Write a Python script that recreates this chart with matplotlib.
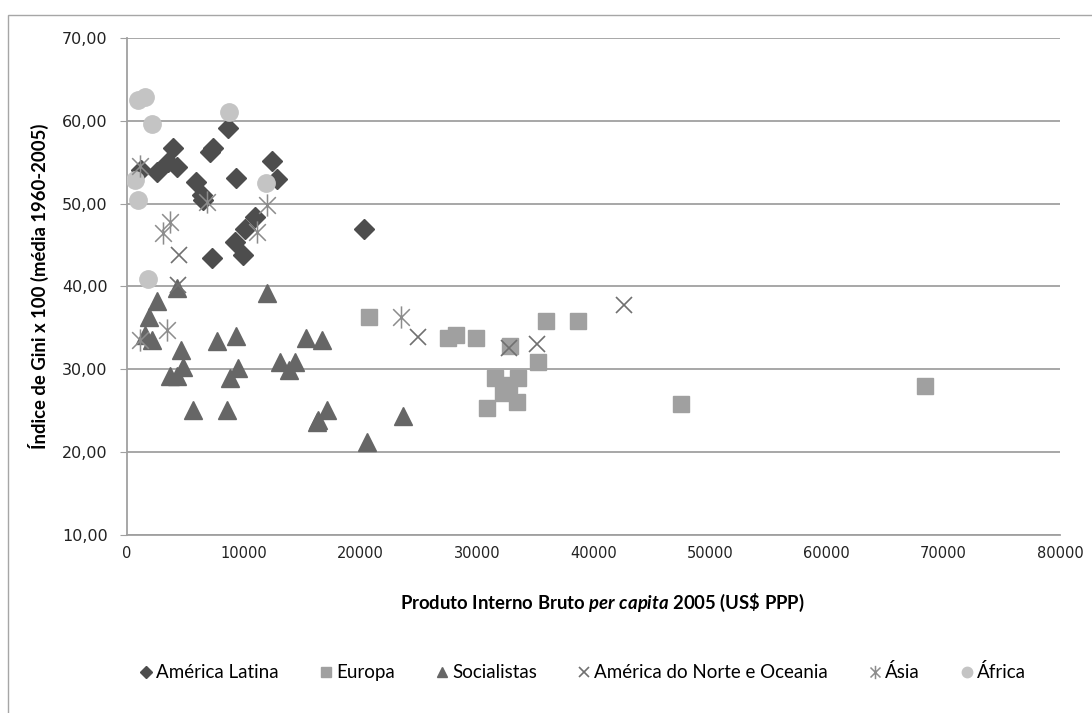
import matplotlib
matplotlib.use('Agg')

import matplotlib.pyplot as plt
import matplotlib.patches as mpatches
from matplotlib.path import Path
from matplotlib.ticker import FuncFormatter
from matplotlib import rcParams

rcParams['mathtext.fontset'] = 'custom'
rcParams['mathtext.it'] = 'Lato:bold:italic'
rcParams['mathtext.rm'] = 'Lato:bold'

# values: GDP per capita 2005 (US$ PPP) vs Gini x 100
latina_x = [1200, 2570, 3940, 3500, 4290, 5900, 6430, 6500, 7120, 7370, 8660, 9350,
            12430, 12860, 10970, 10120, 9260, 7290, 9950, 20320]
latina_y = [54.1, 53.8, 56.7, 55.0, 54.4, 52.6, 51.0, 50.4, 56.2, 56.7, 59.1, 53.1,
            55.2, 53.0, 48.4, 46.9, 45.4, 43.4, 43.8, 47.0]

europa_x = [20750, 27520, 28210, 29920, 32840, 35930, 38670, 35240, 31550, 33520,
            32750, 32240, 33440, 30870, 47500, 68420]
europa_y = [36.3, 33.8, 34.1, 33.8, 32.8, 35.8, 35.8, 30.9, 29.0, 29.0,
            28.1, 27.1, 26.1, 25.3, 25.8, 28.0]

social_x = [2570, 1890, 4290, 1540, 2140, 4630, 4800, 3690, 4290, 7720, 9350, 9520,
            8830, 5660, 8570, 12000, 13120, 13890, 14400, 15350, 16720, 16290,
            17150, 16380, 23660, 20580]
social_y = [38.2, 36.3, 39.8, 34.1, 33.5, 32.3, 30.3, 29.2, 29.2, 33.4, 34.0, 30.2,
            29.0, 25.1, 25.1, 39.2, 30.9, 29.9, 30.9, 33.8, 33.5, 23.6,
            25.1, 23.9, 24.4, 21.2]

norte_x = [4460, 4370, 24950, 32750, 35150, 42610]
norte_y = [43.8, 40.2, 33.9, 32.6, 33.0, 37.8]

asia_x = [1110, 3690, 3090, 12000, 11150, 6860, 3430, 1110, 23490]
asia_y = [54.6, 47.8, 46.4, 49.8, 46.6, 50.2, 34.7, 33.5, 36.3]

africa_x = [950, 1540, 2140, 690, 950, 8750, 11920, 1800]
africa_y = [62.5, 62.9, 59.6, 52.9, 50.4, 61.1, 52.5, 40.9]

# excel style asterisk: vertical bar plus an x
ast = Path([(0, -1), (0, 1), (-0.75, -0.75), (0.75, 0.75), (-0.75, 0.75), (0.75, -0.75)],
           [Path.MOVETO, Path.LINETO, Path.MOVETO, Path.LINETO, Path.MOVETO, Path.LINETO])

fig = plt.figure(figsize=(10.92, 7.13), dpi=100)
fig.patches.append(mpatches.Rectangle((8 / 1092., -0.1), 1.2, 1 - 15 / 713. + 0.1,
                                      transform=fig.transFigure, fill=False,
                                      edgecolor='#a6a6a6', linewidth=1.0))
ax = fig.add_axes([127 / 1092., 1 - 535 / 713., 933 / 1092., 497 / 713.])

ax.plot(latina_x, latina_y, 'D', ls='none', color='#4d4d4d', ms=10.5, label=u'América Latina', zorder=3)
ax.plot(europa_x, europa_y, 's', ls='none', color='#a0a0a0', ms=11.5, label='Europa', zorder=3)
ax.plot(social_x, social_y, '^', ls='none', color='#666666', ms=12.5, label='Socialistas', zorder=3)
ax.plot(norte_x, norte_y, 'x', ls='none', color='#707070', ms=11, mew=1.2,
        label=u'América do Norte e Oceania', zorder=4)
ax.plot(asia_x, asia_y, marker=ast, ls='none', color='#8c8c8c', mfc='none', ms=16, mew=1.1,
        label=u'Ásia', zorder=4)
ax.plot(africa_x, africa_y, 'o', ls='none', color='#c4c4c4', ms=12.5, label=u'África', zorder=3)

ax.set_xlim(0, 80000)
ax.set_ylim(10, 70)
ax.set_xticks(range(0, 80001, 10000))
ax.set_yticks(range(10, 71, 10))
ax.yaxis.set_major_formatter(FuncFormatter(lambda v, p: ('%.2f' % v).replace('.', ',')))
ax.yaxis.grid(True, color='#a0a0a0', linewidth=1.3)
ax.set_axisbelow(True)
for s in ['top', 'right']:
	ax.spines[s].set_visible(False)
for s in ['left', 'bottom']:
	ax.spines[s].set_color('#a0a0a0')
	ax.spines[s].set_linewidth(1.3)
ax.tick_params(axis='y', direction='out', length=5, color='#a0a0a0', pad=9, labelsize=11.5)
ax.tick_params(axis='x', direction='out', length=0, pad=8, labelsize=10.5)
for lab in ax.get_xticklabels() + ax.get_yticklabels():
	lab.set_family('DejaVu Sans')
	lab.set_color('#222222')

ax.set_xlabel(r'Produto Interno Bruto $\mathit{per\ capita}$ 2005 (US\$ PPP)',
              fontsize=13.3, fontweight='bold', family='Lato')
ax.xaxis.set_label_coords(0.51, -0.114)
ax.set_ylabel(u'Índice de Gini x 100 (média 1960-2005)', fontsize=13.3,
              fontweight='bold', family='Lato')
ax.yaxis.set_label_coords(-0.084, 0.5)

leg = ax.legend(loc='center', bbox_to_anchor=(0.488, -0.276), ncol=6, frameon=False,
                markerscale=0.6, handlelength=0.8, handletextpad=0.15, columnspacing=2.1,
                prop={'family': 'Lato', 'size': 13.5})

fig.savefig('out.png', dpi=100)
